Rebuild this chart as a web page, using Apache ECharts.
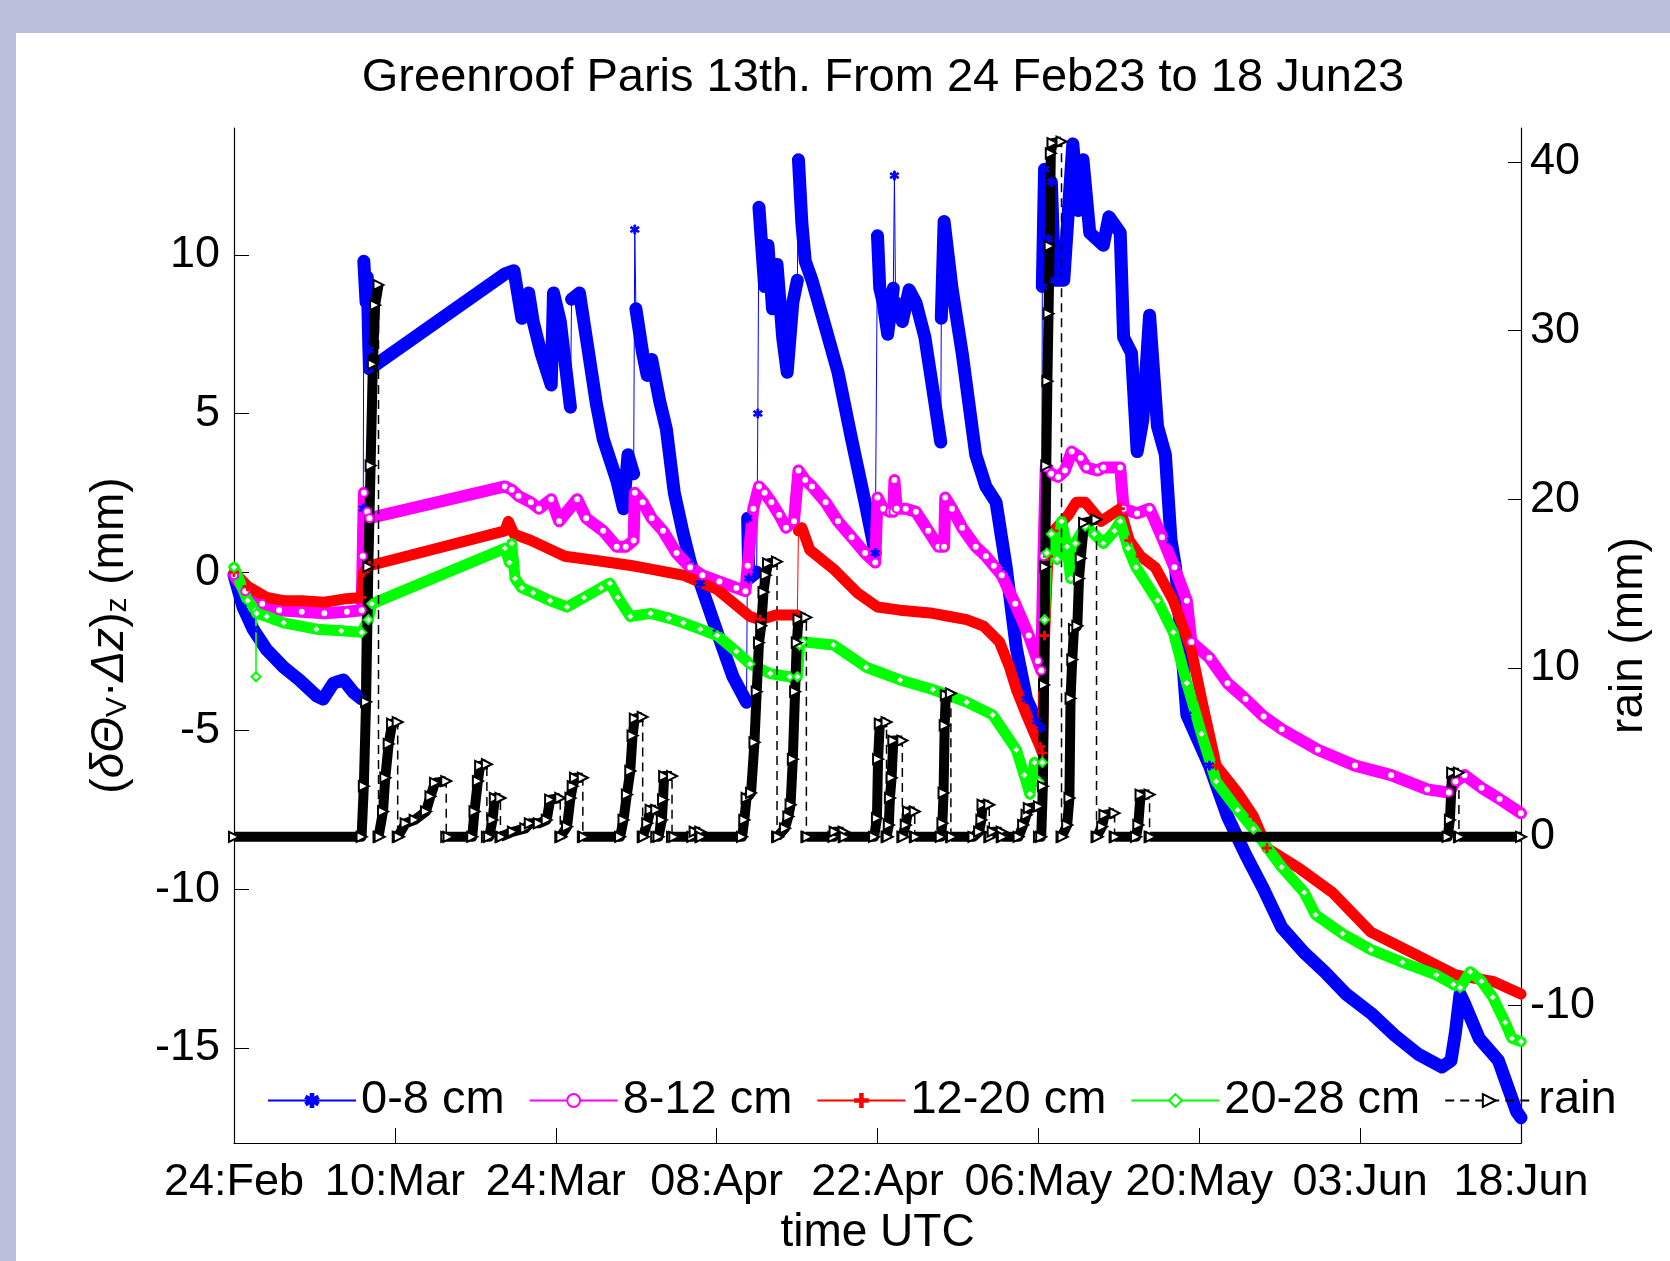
<!DOCTYPE html>
<html>
<head>
<meta charset="utf-8">
<title>Greenroof Paris 13th</title>
<script src="https://cdn.jsdelivr.net/npm/echarts@6/dist/echarts.min.js"></script>
<style>
  html, body { margin: 0; padding: 0; width: 1670px; height: 1261px; background: #b9bfda; overflow: hidden; }
  #sheet { position: absolute; left: 16px; top: 33px; right: 0; bottom: 0; background: #fff; }
  #chart { position: absolute; left: 0; top: 0; width: 1670px; height: 1261px; }
</style>
</head>
<body>
<div id="sheet"></div>
<div id="chart"></div>
<script>
// x = days since 24 Feb 2023 00:00 UTC
const tickLabels = ['24:Feb', '10:Mar', '24:Mar', '08:Apr', '22:Apr', '06:May', '20:May', '03:Jun', '18:Jun'];
const tickStep = 14.25;
const leftTicks = [-15, -10, -5, 0, 5, 10];
const rightTicks = [-10, 0, 10, 20, 30, 40];

// (dTheta_V * dz)_z in mm, per layer
const layer0to8 = [
  [0, -0.1], [0.8, -1.1], [1.7, -1.8], [2.9, -2.45], [4.4, -3.0], [5.8, -3.4], [7.3, -3.9], [7.9, -4.0],
  [8.8, -3.5], [9.7, -3.4], [10.6, -3.8], [11.3, -4.0], [11.45, 2.0], [11.5, 9.8], [11.7, 8.5], [11.8, 9.3],
  [11.95, 7.0], [12.0, 6.4], [24.0, 9.4], [24.8, 9.5], [25.5, 8.0], [26.1, 8.8], [26.5, 7.9], [27.2, 6.9],
  [28.1, 5.9], [28.3, 8.8], [28.9, 7.9], [29.8, 5.2], [29.9, 8.6], [30.6, 8.8], [31.2, 7.4], [32.1, 5.3],
  [32.7, 4.2], [33.9, 2.9], [34.5, 2.0], [34.9, 3.7], [35.4, 3.1], [35.5, 10.8], [35.6, 8.3], [36.2, 6.9],
  [36.6, 6.2], [37.0, 6.7], [37.7, 5.4], [38.3, 4.5], [39.0, 2.5], [39.8, 1.2], [40.5, 0.2], [41.3, -0.35],
  [42.8, -1.9], [44.2, -3.3], [45.4, -4.1], [45.5, 1.7], [45.6, -0.2], [46.3, 0.0], [46.4, 5.0], [46.5, 11.5],
  [46.7, 10.5], [47.0, 9.0], [47.3, 10.3], [47.7, 8.3], [48.1, 9.7], [48.6, 7.4], [49.0, 6.3], [49.5, 8.5],
  [49.9, 9.2], [50.0, 13.0], [50.3, 11.0], [50.6, 9.8], [51.2, 9.2], [52.4, 7.7], [53.5, 6.3], [54.7, 4.2],
  [55.9, 2.2], [56.8, 0.6], [57.0, 10.6], [57.2, 8.95], [57.5, 8.5], [57.9, 7.5], [58.4, 8.95], [58.5, 12.5],
  [58.6, 8.5], [59.2, 7.9], [59.8, 8.9], [60.4, 8.5], [61.2, 7.4], [62.1, 5.3], [62.6, 4.1], [62.65, 8.0],
  [62.9, 11.05], [63.6, 8.95], [64.5, 6.9], [65.7, 3.7], [66.6, 2.7], [67.5, 2.2], [68.4, 0.15], [69.3, -2.4],
  [70.2, -4.0], [71.1, -4.7], [71.5, -4.9], [71.6, 9.0], [71.8, 12.7], [72.1, 10.5], [72.4, 12.3], [72.7, 9.2],
  [73.5, 9.2], [74.3, 13.5], [74.8, 11.4], [75.2, 13.0], [75.8, 10.7], [77.0, 10.3], [77.5, 11.2], [78.5, 10.7],
  [78.8, 7.4], [79.5, 6.9], [80.0, 3.8], [80.5, 4.8], [81.1, 8.1], [81.8, 4.6], [82.5, 3.7], [83.0, 1.0],
  [83.4, 0.15], [84.4, -4.5], [86.4, -6.1], [88.0, -7.7], [89.6, -8.9], [91.2, -10.0], [92.8, -11.2], [94.8, -12.0],
  [96.6, -12.6], [98.5, -13.3], [100.7, -13.9], [102.8, -14.6], [104.9, -15.2], [107.0, -15.6], [107.8, -15.4],
  [108.2, -14.5], [108.6, -13.3], [109.0, -13.6], [110.3, -14.7], [112.0, -15.4], [112.8, -16.2], [113.6, -17.0],
  [114, -17.2]
];

const layer8to12 = [
  [0, -0.1], [1.0, -0.6], [2.5, -1.0], [4.0, -1.2], [6.0, -1.25], [8.0, -1.3], [10.0, -1.25], [11.3, -1.2],
  [11.4, 0.5], [11.5, 2.5], [11.8, 1.9], [12.0, 1.7], [24.0, 2.7], [24.6, 2.6], [25.2, 2.4], [26.3, 2.2],
  [27.0, 2.0], [28.1, 2.3], [28.8, 1.6], [30.4, 2.3], [31.2, 1.7], [32.7, 1.3], [33.9, 0.8], [34.7, 0.8],
  [35.4, 1.0], [35.5, 2.5], [36.2, 2.2], [37.0, 1.7], [38.0, 1.3], [39.2, 0.6], [40.4, 0.15], [41.5, -0.1],
  [43.0, -0.3], [44.5, -0.5], [45.3, -0.6], [45.5, 0.2], [46.0, 2.0], [46.5, 2.7], [47.0, 2.5], [47.6, 2.2],
  [48.3, 1.8], [48.9, 1.4], [49.6, 1.6], [50.0, 3.2], [50.6, 2.9], [51.2, 2.7], [52.4, 2.2], [53.5, 1.6],
  [54.7, 1.1], [55.9, 0.6], [56.8, 0.3], [57.0, 2.35], [57.5, 2.0], [58.1, 1.9], [58.4, 1.9], [58.5, 2.9],
  [58.7, 2.0], [59.5, 2.0], [60.4, 1.9], [61.5, 1.3], [62.4, 0.8], [62.9, 0.8], [63.0, 2.35], [63.6, 2.0],
  [64.5, 1.4], [65.7, 0.8], [66.6, 0.5], [67.3, 0.2], [68.0, -0.1], [69.2, -1.0], [70.4, -2.0], [71.2, -2.8],
  [71.5, -3.1], [71.7, 0.5], [71.9, 3.3], [72.4, 3.1], [73.0, 3.0], [73.6, 3.2], [74.2, 3.8], [75.0, 3.6],
  [75.5, 3.3], [76.5, 3.2], [77.0, 3.3], [78.5, 3.3], [78.8, 2.0], [80.0, 1.85], [81.1, 2.0], [82.2, 1.1],
  [83.3, 0.15], [84.4, -0.9], [84.8, -2.2], [86.4, -2.7], [88.0, -3.5], [89.6, -4.0], [91.2, -4.55], [92.8, -4.95],
  [96.0, -5.6], [99.3, -6.1], [102.5, -6.4], [105.7, -6.85], [107.6, -6.95], [108.2, -6.6], [109.0, -6.4],
  [110.5, -6.8], [112.1, -7.15], [114, -7.6]
];

const layer12to20 = [
  [0, 0.0], [1.2, -0.45], [2.9, -0.8], [4.4, -0.9], [6.0, -0.9], [8.0, -0.95], [9.7, -0.85], [11.3, -0.8],
  [11.5, 0.0], [12.0, 0.2], [24.0, 1.3], [24.3, 1.6], [24.8, 1.2], [26.3, 1.0], [29.3, 0.5], [32.4, 0.35],
  [35.3, 0.2], [36.8, 0.1], [39.8, -0.1], [42.8, -0.55], [45.7, -1.4], [46.6, -1.5], [48.0, -1.35], [49.9, -1.35],
  [50.0, 1.3], [50.3, 1.4], [51.0, 0.7], [53.1, 0.1], [55.2, -0.65], [57.0, -1.1], [59.0, -1.2], [61.9, -1.3],
  [63.4, -1.4], [64.9, -1.5], [66.4, -1.7], [67.8, -2.2], [68.7, -3.0], [69.3, -3.7], [70.2, -4.5], [70.8, -5.0],
  [71.4, -5.5], [71.6, -5.7], [71.8, -2.0], [72.1, 0.5], [72.6, 1.3], [73.9, 1.8], [74.6, 2.2], [75.4, 2.2],
  [76.8, 1.6], [78.5, 2.0], [79.3, 1.0], [80.3, 0.5], [81.6, 0.15], [83.2, -0.9], [84.8, -2.45], [85.7, -4.0],
  [87.0, -6.1], [88.9, -6.95], [90.3, -7.7], [91.5, -8.7], [94.4, -9.35], [97.3, -10.1], [100.7, -11.35],
  [104.9, -12.1], [108.2, -12.7], [111.5, -12.9], [114, -13.3]
];

const layer20to28 = [
  [0, 0.15], [1.2, -0.9], [1.9, -1.2], [1.95, -3.3], [2.0, -1.3], [2.9, -1.4], [4.4, -1.6], [7.3, -1.8],
  [9.5, -1.85], [11.3, -1.9], [11.9, -1.5], [12.2, -1.0], [24.0, 0.75], [24.4, 0.3], [24.6, 0.9], [24.9, -0.2],
  [25.5, -0.5], [26.5, -0.65], [28.0, -0.9], [29.5, -1.1], [31.0, -0.8], [32.5, -0.5], [33.3, -0.35], [34.0, -0.8],
  [35.1, -1.4], [36.9, -1.3], [38.5, -1.45], [39.8, -1.6], [41.3, -1.8], [42.8, -2.0], [44.5, -2.5], [45.7, -2.9],
  [47.5, -3.2], [49.2, -3.3], [49.9, -3.3], [50.1, -2.3], [50.4, -2.2], [53.1, -2.3], [56.0, -3.0], [59.0, -3.4],
  [61.9, -3.7], [64.9, -4.1], [67.2, -4.5], [69.3, -5.6], [70.0, -6.4], [70.5, -7.0], [70.9, -6.0], [71.3, -6.6],
  [71.6, -6.0], [71.8, -1.5], [72.0, 0.6], [72.4, 1.2], [72.9, 0.4], [73.3, 1.6], [73.8, 0.8], [74.1, -0.2],
  [74.5, 0.9], [75.4, 1.45], [76.2, 1.2], [77.0, 0.9], [78.0, 1.3], [78.5, 1.6], [79.2, 0.75], [79.9, 0.15],
  [81.8, -0.9], [83.2, -1.9], [84.4, -3.5], [85.7, -5.1], [87.0, -6.6], [88.9, -7.5], [90.3, -8.1], [92.8, -9.3],
  [94.8, -10.1], [95.8, -10.8], [98.2, -11.4], [100.7, -11.9], [103.5, -12.3], [106.5, -12.7], [108.0, -13.0],
  [108.6, -13.1], [109.5, -12.6], [110.5, -12.9], [111.5, -13.4], [112.6, -14.2], [113.2, -14.7], [114, -14.8]
];

// cumulative rain per event (mm), reset to 0 at the end of each event
const rainCum = [
  [0, 0], [11.3, 0], [11.5, 3], [11.7, 8], [11.9, 16], [12.1, 22], [12.3, 28], [12.5, 31.5], [12.8, 32.7], [12.8, 0],
  [12.9, 0], [13.2, 1.5], [13.4, 3.5], [13.7, 5.5], [14.0, 6.7], [14.5, 6.8], [14.5, 0],
  [14.6, 0], [15.2, 0.8], [16.0, 1.0], [17.0, 1.5], [17.4, 2.4], [17.8, 3.2], [18.8, 3.3], [18.8, 0],
  [19.0, 0], [21.1, 0], [21.3, 1.5], [21.6, 3.3], [21.8, 4.2], [22.4, 4.3], [22.4, 0],
  [22.6, 0], [22.9, 1.0], [23.1, 2.3], [23.6, 2.3], [23.6, 0],
  [23.7, 0], [24.7, 0.3], [25.8, 0.5], [26.2, 0.8], [27.0, 0.8], [27.7, 1.0], [28.0, 2.2], [28.9, 2.3], [28.9, 0],
  [29.0, 0], [29.5, 0.6], [29.8, 2.3], [30.0, 3.0], [30.2, 3.5], [30.9, 3.5], [30.9, 0],
  [31.0, 0], [34.2, 0], [34.5, 1.0], [34.8, 2.5], [35.1, 3.9], [35.3, 6.0], [35.5, 7.0], [36.2, 7.1], [36.2, 0],
  [36.3, 0], [36.6, 0.8], [36.9, 1.6], [37.4, 1.6], [37.4, 0],
  [37.6, 0], [37.9, 1.0], [38.0, 2.2], [38.1, 3.6], [38.8, 3.6], [38.8, 0],
  [39.0, 0], [40.6, 0], [40.8, 0.3], [41.3, 0.3], [41.3, 0],
  [41.4, 0], [45.0, 0], [45.2, 1.0], [45.4, 2.3], [45.8, 2.6], [46.1, 5.6], [46.3, 8.6], [46.5, 11.5], [46.7, 12.5],
  [46.9, 14.5], [47.1, 15.5], [47.3, 16.2], [48.1, 16.3], [48.1, 0],
  [48.2, 0], [48.8, 0.5], [49.1, 1.2], [49.3, 1.9], [49.5, 4.6], [49.7, 8.6], [49.85, 11.5], [50.0, 12.9], [50.7, 13.0], [50.7, 0],
  [50.8, 0], [53.1, 0], [53.2, 0.3], [54.0, 0.3], [54.0, 0],
  [54.1, 0], [56.7, 0], [56.95, 1.1], [57.05, 4.6], [57.2, 6.7], [57.8, 6.8], [57.8, 0],
  [57.9, 0], [58.0, 0.7], [58.1, 2.3], [58.25, 3.5], [58.4, 5.7], [59.2, 5.7], [59.2, 0],
  [59.3, 0], [59.5, 0.7], [59.7, 1.5], [60.3, 1.5], [60.3, 0],
  [60.4, 0], [62.6, 0], [62.75, 0.8], [62.85, 2.6], [62.95, 6.6], [63.05, 8.4], [63.5, 8.5], [63.5, 0],
  [63.6, 0], [65.5, 0], [66.0, 0.3], [66.2, 1.0], [66.3, 1.9], [66.9, 1.9], [66.9, 0],
  [67.0, 0], [67.2, 0.3], [68.0, 0.3], [68.0, 0],
  [68.1, 0], [69.5, 0], [69.9, 0.7], [70.2, 1.3], [70.4, 1.7], [71.3, 1.8], [71.3, 0],
  [71.5, 0], [71.65, 3], [71.75, 9], [71.85, 16], [71.95, 22], [72.05, 27], [72.15, 31], [72.25, 35], [72.35, 40.5],
  [72.5, 41.1], [73.3, 41.2], [73.3, 0],
  [73.4, 0], [73.8, 0.7], [74.0, 2.3], [74.1, 8.2], [74.25, 10.5], [74.4, 12.3], [74.7, 12.5], [74.85, 15.3],
  [75.0, 16.5], [75.3, 18.6], [76.4, 18.8], [76.4, 0],
  [76.5, 0], [76.9, 0.6], [77.1, 1.3], [78.0, 1.4], [78.0, 0],
  [78.1, 0], [79.9, 0], [80.1, 0.7], [80.3, 2.5], [81.1, 2.5], [81.1, 0],
  [81.2, 0], [107.5, 0], [107.7, 1.0], [107.9, 3.8], [108.5, 3.8], [108.5, 0],
  [108.6, 0], [114, 0]
];

const FONT = 'Liberation Sans, Arial, Helvetica, sans-serif';

// dense MATLAB markers make the traces look thick; sudden jumps stay thin
function thickParts(points, isJump) {
  const out = [];
  points.forEach((p, i) => {
    if (i > 0 && isJump(points[i - 1], p)) out.push([(points[i - 1][0] + p[0]) / 2, null]);
    out.push(p);
  });
  return out;
}
const steep = (a, b) => b[0] - a[0] <= 0 || Math.abs(b[1] - a[1]) / (b[0] - a[0]) > 22;
const drop = (a, b) => b[1] < a[1] - 0.2;

const starPath = 'path://M4,0h2v3.3l2.9-1.7 1,1.7L7,5l2.9,1.7-1,1.7L6,6.7V10H4V6.7L1.1,8.4l-1-1.7L3,5 0.1,3.3l1-1.7L4,3.3z';
const plusPath = 'path://M4,0h2v4h4v2H6v4H4V6H0V4h4z';

const layers = [
  { name: '0-8 cm', data: layer0to8, color: '#0000ff', symbol: starPath, size: 9, band: 13 },
  { name: '8-12 cm', data: layer8to12, color: '#ff00ff', symbol: 'emptyCircle', size: 8, band: 12 },
  { name: '12-20 cm', data: layer12to20, color: '#ff0000', symbol: plusPath, size: 9, band: 11 },
  { name: '20-28 cm', data: layer20to28, color: '#00ff00', symbol: 'emptyDiamond', size: 9, band: 11 }
];

const series = [];
layers.forEach(l => {
  series.push({
    name: l.name, type: 'line', yAxisIndex: 0, data: l.data,
    symbol: l.symbol, symbolSize: l.size, showSymbol: true,
    itemStyle: { color: l.color, borderColor: l.color, borderWidth: 1 },
    lineStyle: { color: l.color, width: 1 }
  });
  series.push({
    name: l.name, type: 'line', yAxisIndex: 0, data: thickParts(l.data, steep),
    symbol: 'none', silent: true,
    lineStyle: { color: l.color, width: l.band, join: 'round', cap: 'round' }
  });
});
series.push({
  name: 'rain', type: 'line', yAxisIndex: 1, data: rainCum,
  symbol: 'emptyTriangle', symbolSize: 10, symbolRotate: -90, showSymbol: true,
  itemStyle: { color: '#000', borderColor: '#000', borderWidth: 1 },
  lineStyle: { color: '#000', width: 1.5, type: [9, 6] }
});
series.push({
  name: 'rain', type: 'line', yAxisIndex: 1, data: thickParts(rainCum, drop),
  symbol: 'none', silent: true,
  lineStyle: { color: '#000', width: 10, join: 'round' }
});

const chart = echarts.init(document.getElementById('chart'));
chart.setOption({
  animation: false,
  textStyle: { fontFamily: FONT, color: '#000' },
  title: {
    text: 'Greenroof Paris 13th. From 24 Feb23 to 18 Jun23',
    left: 878, top: 50, textAlign: 'center',
    textStyle: { fontFamily: FONT, fontSize: 47, fontWeight: 'normal', color: '#000' }
  },
  grid: { left: 234, right: 149, top: 128, bottom: 116 },
  legend: {
    data: ['0-8 cm', '8-12 cm', '12-20 cm', '20-28 cm', 'rain'],
    left: 262, top: 1072, itemWidth: 88, itemHeight: 16, itemGap: 24,
    textStyle: { fontFamily: FONT, fontSize: 47, color: '#000' }
  },
  xAxis: {
    type: 'value', min: 0, max: 114, interval: tickStep,
    name: 'time UTC', nameLocation: 'middle', nameGap: 66,
    nameTextStyle: { fontFamily: FONT, fontSize: 46, color: '#000' },
    axisLine: { show: true, onZero: false, lineStyle: { color: '#000', width: 1.2 } },
    axisTick: { show: true, inside: true, length: 15, lineStyle: { color: '#000' } },
    axisLabel: {
      margin: 17, fontFamily: FONT, fontSize: 45, color: '#000',
      formatter: v => tickLabels[Math.round(v / tickStep)]
    },
    splitLine: { show: false }
  },
  yAxis: [
    {
      type: 'value', min: -18, max: 14, position: 'left',
      name: '{r|(}{i|δΘ}{s|V}{r|·}{i|Δz}{r|)}{s|z}{r| (mm)}',
      nameLocation: 'middle', nameRotate: 90, nameGap: 101,
      nameTextStyle: {
        rich: {
          r: { fontFamily: FONT, fontSize: 46, lineHeight: 50, verticalAlign: 'bottom', color: '#000' },
          i: { fontFamily: FONT, fontSize: 46, fontStyle: 'italic', lineHeight: 50, verticalAlign: 'bottom', color: '#000' },
          s: { fontFamily: FONT, fontSize: 30, lineHeight: 76, verticalAlign: 'bottom', color: '#000' }
        }
      },
      axisLine: { show: true, onZero: false, lineStyle: { color: '#000', width: 1.2 } },
      axisTick: { show: true, inside: true, length: 15, customValues: leftTicks, lineStyle: { color: '#000' } },
      axisLabel: { margin: 14, fontFamily: FONT, fontSize: 45, color: '#000', customValues: leftTicks },
      splitLine: { show: false }
    },
    {
      type: 'value', min: -18.15, max: 42, position: 'right',
      name: 'rain (mm)', nameLocation: 'middle', nameRotate: 90, nameGap: 68,
      nameTextStyle: { fontFamily: FONT, fontSize: 46, color: '#000' },
      axisLine: { show: true, onZero: false, lineStyle: { color: '#000', width: 1.2 } },
      axisTick: { show: true, inside: true, length: 13, customValues: rightTicks, lineStyle: { color: '#000' } },
      axisLabel: { margin: 9, fontFamily: FONT, fontSize: 45, color: '#000', customValues: rightTicks },
      splitLine: { show: false }
    }
  ],
  series: series
});
</script>
</body>
</html>
